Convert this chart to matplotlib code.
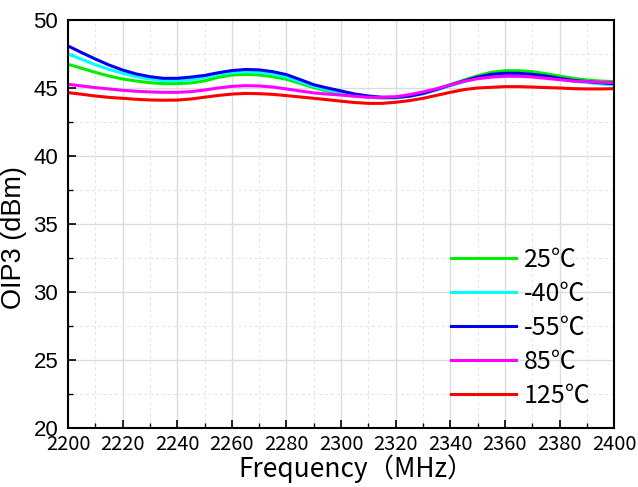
import numpy as np
import matplotlib.pyplot as plt
from matplotlib.ticker import MultipleLocator

freq = list(range(2200, 2401, 5))

oip3_25 = [46.74, 46.45, 46.15, 45.88, 45.66, 45.51, 45.39, 45.32, 45.32, 45.37,
           45.52, 45.78, 45.95, 46.00, 45.96, 45.83, 45.64, 45.34, 45.03, 44.77,
           44.60, 44.44, 44.31, 44.26, 44.28, 44.41, 44.61, 44.90, 45.24, 45.58,
           45.90, 46.15, 46.27, 46.27, 46.20, 46.05, 45.88, 45.71, 45.59, 45.51, 45.47]
oip3_m40 = [47.50, 47.11, 46.71, 46.37, 46.08, 45.83, 45.66, 45.54, 45.54, 45.60,
            45.78, 46.00, 46.13, 46.20, 46.16, 46.03, 45.81, 45.47, 45.12, 44.86,
            44.68, 44.50, 44.36, 44.28, 44.28, 44.39, 44.58, 44.85, 45.17, 45.47,
            45.74, 45.93, 46.02, 46.02, 45.95, 45.83, 45.66, 45.50, 45.40, 45.30, 45.22]
oip3_m55 = [48.09, 47.60, 47.13, 46.69, 46.32, 46.03, 45.83, 45.71, 45.71, 45.80,
            45.92, 46.12, 46.28, 46.36, 46.33, 46.20, 45.98, 45.62, 45.24, 45.00,
            44.78, 44.56, 44.41, 44.32, 44.31, 44.40, 44.60, 44.90, 45.22, 45.52,
            45.80, 46.00, 46.08, 46.08, 46.00, 45.88, 45.71, 45.56, 45.47, 45.38, 45.32]
oip3_85 = [45.27, 45.15, 45.03, 44.93, 44.83, 44.76, 44.71, 44.68, 44.68, 44.73,
           44.85, 45.00, 45.12, 45.17, 45.15, 45.07, 44.93, 44.78, 44.64, 44.55,
           44.48, 44.39, 44.32, 44.31, 44.36, 44.51, 44.71, 44.95, 45.22, 45.49,
           45.68, 45.80, 45.86, 45.86, 45.81, 45.71, 45.61, 45.51, 45.47, 45.42, 45.40]
oip3_125 = [44.66, 44.54, 44.41, 44.31, 44.24, 44.17, 44.12, 44.10, 44.11, 44.19,
            44.32, 44.45, 44.55, 44.60, 44.58, 44.53, 44.44, 44.34, 44.24, 44.14,
            44.03, 43.93, 43.87, 43.87, 43.95, 44.07, 44.24, 44.46, 44.68, 44.88,
            45.00, 45.05, 45.10, 45.10, 45.07, 45.03, 45.00, 44.95, 44.93, 44.93, 44.95]

series = [
    ('25℃', oip3_25, '#00ee00'),
    ('-40℃', oip3_m40, '#00ffff'),
    ('-55℃', oip3_m55, '#0000ee'),
    ('85℃', oip3_85, '#ff00ff'),
    ('125℃', oip3_125, '#ff0000'),
]

cjk = ['Noto Sans CJK SC', 'DejaVu Sans']
arial = ['Liberation Sans', 'DejaVu Sans']

fig = plt.figure(figsize=(6.38, 4.87), dpi=100)
ax = fig.add_axes([0.1066, 0.121, 0.856, 0.838])

for label, vals, color in series:
    ax.plot(freq, vals, color=color, lw=2.2, label=label)

ax.set_xlim(2200, 2400)
ax.set_ylim(20, 50)
ax.xaxis.set_major_locator(MultipleLocator(20))
ax.xaxis.set_minor_locator(MultipleLocator(10))
ax.yaxis.set_major_locator(MultipleLocator(5))
ax.yaxis.set_minor_locator(MultipleLocator(2.5))

ax.grid(True, which='major', color='#dcdcdc', lw=1.0, ls='-')
ax.grid(True, which='minor', color='#e4e4e4', lw=0.7, ls=(0, (3, 3)))
ax.set_axisbelow(True)

ax.tick_params(which='major', direction='in', length=6, width=1.2)
ax.tick_params(axis='x', which='major', pad=4)
ax.tick_params(axis='y', which='major', pad=7)
ax.tick_params(which='minor', direction='in', length=3.5, width=1.0)
for sp in ax.spines.values():
    sp.set_linewidth(1.5)

for t in ax.get_xticklabels():
    t.set_fontfamily(cjk)
    t.set_fontsize(14.5)
for t in ax.get_yticklabels():
    t.set_fontfamily(arial)
    t.set_fontsize(16)

ax.set_xlabel('Frequency（MHz）', family=cjk, fontsize=19)
ax.set_ylabel('OIP3 (dBm)', family=arial, fontsize=19.5)
ax.xaxis.set_label_coords(0.527, -0.064)
ax.yaxis.set_label_coords(-0.075, 0.466)

leg = ax.legend(loc='lower right', frameon=False, prop={'family': cjk, 'size': 18},
                handlelength=2.6, handletextpad=0.3, labelspacing=0.32,
                bbox_to_anchor=(0.975, 0.022), borderaxespad=0.0)

fig.savefig('out.png', dpi=100)
